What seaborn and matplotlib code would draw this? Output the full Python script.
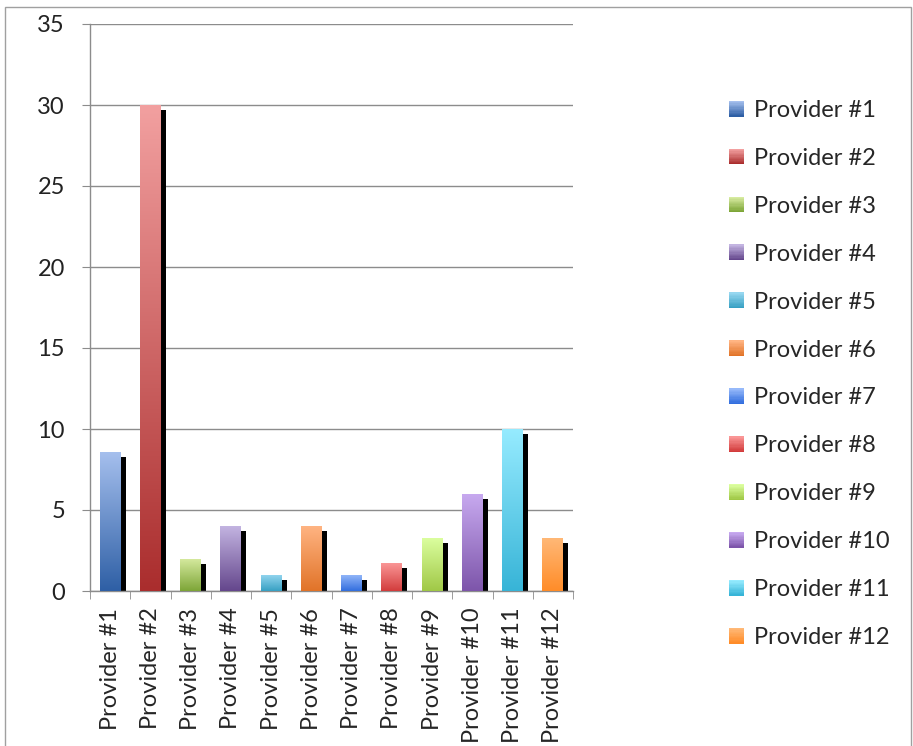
import numpy as np
import pandas as pd
import matplotlib
matplotlib.use("Agg")
import matplotlib.pyplot as plt
import matplotlib.transforms as mtransforms
from matplotlib.patches import Rectangle
from matplotlib.colors import LinearSegmentedColormap
from matplotlib.legend_handler import HandlerBase
import seaborn as sns

# Chart data
providers = ["Provider #%d" % i for i in range(1, 13)]
counts = [8.6, 30, 2, 4, 1, 4, 1, 1.7, 3.3, 6, 10, 3.3]

# gradient colours of each bar (top, bottom)
top_colors = ["#a6c0ee", "#f2a0a0", "#d7eba0", "#c3b4e1", "#96d7f0", "#ffb482",
              "#96b9fa", "#fa9696", "#dcffa0", "#c8aaf0", "#96ebff", "#ffb978"]
bottom_colors = ["#2e5fa5", "#aa2d2d", "#7da537", "#64468c", "#37a0c3", "#e17328",
                 "#326ede", "#d23c3c", "#a0c846", "#7d55aa", "#37b4d7", "#ff8c28"]
mid_colors = [matplotlib.colors.to_hex(
    (np.array(matplotlib.colors.to_rgb(t)) + np.array(matplotlib.colors.to_rgb(b))) / 2)
    for t, b in zip(top_colors, bottom_colors)]

df = pd.DataFrame({"provider": providers, "count": counts})


# legend key drawn as a small vertical gradient square
class GradientHandler(HandlerBase):
    def __init__(self, top, bot, steps=12):
        super().__init__()
        self.cmap = LinearSegmentedColormap.from_list("g", [bot, top])
        self.steps = steps

    def create_artists(self, legend, orig_handle, xdescent, ydescent,
                       width, height, fontsize, trans):
        arts = []
        step_h = height / self.steps
        for i in range(self.steps):
            arts.append(Rectangle((-xdescent, -ydescent + i * step_h), width, step_h * 1.05,
                                  facecolor=self.cmap(i / (self.steps - 1)),
                                  edgecolor="none", transform=trans))
        return arts


sns.set_style("white")
plt.rcParams["font.family"] = ["Lato", "DejaVu Sans"]

fig = plt.figure(figsize=(9.13, 7.46), dpi=100)
ax = fig.add_axes([90 / 913, 155 / 746, 483 / 913, 567 / 746])

sns.barplot(data=df, x="provider", y="count", hue="provider", palette=mid_colors,
            dodge=False, width=0.52, legend=False, ax=ax, zorder=3)

# shadow offset 5px right, 5px down, and gradient fill clipped to each bar
shadow_tr = ax.transData + mtransforms.ScaledTranslation(5 / 100, -5 / 100, fig.dpi_scale_trans)
grad = np.linspace(0, 1, 256).reshape(-1, 1)
for patch, top, bot in zip(ax.patches, top_colors, bottom_colors):
    x0, y0 = patch.get_x(), patch.get_y()
    w, h = patch.get_width(), patch.get_height()
    ax.add_patch(Rectangle((x0, y0), w, h, facecolor="black", edgecolor="none",
                           transform=shadow_tr, zorder=2))
    cmap = LinearSegmentedColormap.from_list("g", [bot, top])
    im = ax.imshow(grad, cmap=cmap, aspect="auto", origin="lower",
                   extent=(x0, x0 + w, y0, y0 + h), zorder=4)
    im.set_clip_path(patch)
    patch.set_edgecolor("none")

ax.set_xlim(-0.5, 11.5)
ax.set_ylim(0, 35)
ax.set_yticks(range(0, 36, 5))
ax.yaxis.grid(True, color="#8c8c8c", linewidth=1)
ax.set_axisbelow(True)
ax.set_xlabel("")
ax.set_ylabel("")

for side in ["top", "right"]:
    ax.spines[side].set_visible(False)
for side in ["left", "bottom"]:
    ax.spines[side].set_color("#8c8c8c")
    ax.spines[side].set_linewidth(1)

ax.tick_params(axis="y", length=6, color="#8c8c8c", labelsize=17, pad=12, left=True,
               labelcolor="#222222")
ax.tick_params(axis="x", which="major", length=0, labelsize=17, pad=12, rotation=90)
ax.set_xticks(np.arange(-0.5, 12, 1), minor=True)
ax.tick_params(axis="x", which="minor", length=6, color="#8c8c8c", bottom=True)

# legend
handles = [Rectangle((0, 0), 1, 1, facecolor=c, edgecolor="none") for c in mid_colors]
hmap = {h: GradientHandler(t, b) for h, t, b in zip(handles, top_colors, bottom_colors)}
fig.legend(handles, providers, loc="center left", bbox_to_anchor=(729 / 913, 372 / 746),
           frameon=False, fontsize=17, handlelength=0.65, handleheight=0.65,
           handletextpad=0.4, labelspacing=1.14, borderpad=0, borderaxespad=0,
           handler_map=hmap)

# chart border
fig.add_artist(Rectangle((5 / 913, -0.01), 906 / 913, 1.01 - 7 / 746, transform=fig.transFigure,
                         fill=False, edgecolor="#a0a0a0", linewidth=1))

fig.savefig("out.png", dpi=100)
